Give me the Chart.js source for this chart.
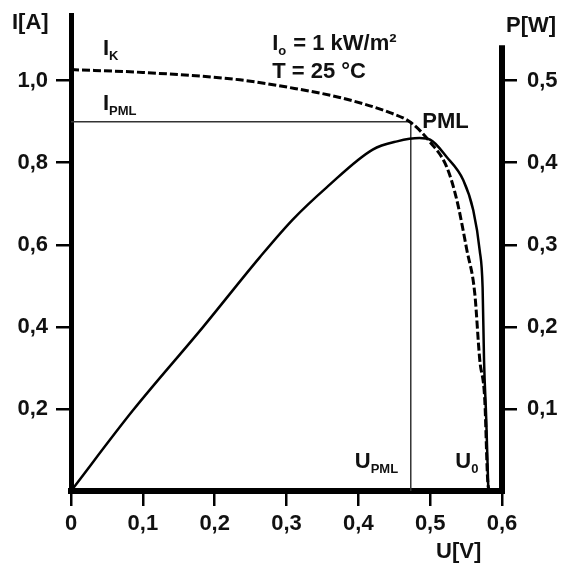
<!DOCTYPE html>
<html>
<head>
<meta charset="utf-8">
<script src="https://cdn.jsdelivr.net/npm/chart.js@4.4.0/dist/chart.umd.min.js"></script>
<style>
html, body { margin: 0; padding: 0; background: #fff; }
</style>
</head>
<body>
<canvas id="chart" width="562" height="570"></canvas>
<script>
// I-U Kennlinie (gestrichelt)
const uStrom = [0, 0.1, 0.235, 0.305, 0.374, 0.444, 0.473, 0.5, 0.523, 0.537, 0.551, 0.562, 0.569, 0.576, 0.58, 0.582];
const strom = [1.027, 1.02, 1.002, 0.983, 0.959, 0.922, 0.898, 0.85, 0.79, 0.71, 0.588, 0.483, 0.32, 0.222, 0.027, 0];
// P-U Kennlinie
const uLeistung = [0, 0.086, 0.184, 0.263, 0.309, 0.356, 0.42, 0.454, 0.485, 0.5, 0.523, 0.546, 0.56, 0.569, 0.573, 0.575, 0.578, 0.581];
const leistung = [0, 0.098, 0.2, 0.285, 0.331, 0.37, 0.416, 0.426, 0.43, 0.428, 0.407, 0.379, 0.342, 0.293, 0.248, 0.159, 0.089, 0];
// Punkt maximaler Leistung
const uPml = 0.473;
const iPml = 0.9;
// Achsen
const uTicks = [0, 0.1, 0.2, 0.3, 0.4, 0.5, 0.6];
const iTicks = [0.2, 0.4, 0.6, 0.8, 1.0];
const pTicks = [0.1, 0.2, 0.3, 0.4, 0.5];
const pAchseOben = 0.543;

const schrift = '"Liberation Sans", Arial, sans-serif';
const fmt = v => v === 0 ? '0' : v.toFixed(1).replace('.', ',');

function punkte(xs, ys) { return xs.map((x, k) => ({ x: x, y: ys[k] })); }

function fixAchse(breite, hoehe) {
    return s => {
        if (breite) s.width = breite;
        if (hoehe) s.height = hoehe;
        s.paddingTop = 0; s.paddingBottom = 0; s.paddingLeft = 0; s.paddingRight = 0;
    };
}

// Text mit Tiefstellung zeichnen
function textTeile(ctx, teile, x, y, groesse) {
    teile.forEach(t => {
        ctx.font = 'bold ' + (t.sub ? Math.round(groesse * 0.6) : groesse) + 'px ' + schrift;
        ctx.fillText(t.t, x, t.sub ? y + 5 : y);
        x += ctx.measureText(t.t).width + (t.sub ? 1 : 0);
    });
}

const beschriftung = {
    id: 'beschriftung',
    afterDraw(chart) {
        const ctx = chart.ctx;
        const sx = chart.scales.x, sI = chart.scales.yI, sP = chart.scales.yP;
        ctx.save();
        // rechte Achse
        ctx.strokeStyle = '#000';
        ctx.lineWidth = 6;
        ctx.beginPath();
        ctx.moveTo(chart.chartArea.right, sP.getPixelForValue(pAchseOben));
        ctx.lineTo(chart.chartArea.right, chart.chartArea.bottom + 3);
        ctx.stroke();

        ctx.fillStyle = '#111';
        ctx.textBaseline = 'alphabetic';
        ctx.textAlign = 'left';
        const g = 22;
        const at = (u, i) => [sx.getPixelForValue(u), sI.getPixelForValue(i)];
        let p;
        textTeile(ctx, [{ t: 'I[A]' }], 12, 29, g);
        textTeile(ctx, [{ t: 'P[W]' }], 506, 32, g);
        textTeile(ctx, [{ t: 'U[V]' }], 436, 558, g);
        p = at(0.0445, 1.063); textTeile(ctx, [{ t: 'I' }, { t: 'K', sub: true }], p[0], p[1], g);
        p = at(0.0445, 0.929); textTeile(ctx, [{ t: 'I' }, { t: 'PML', sub: true }], p[0], p[1], g);
        p = at(0.28, 1.075); textTeile(ctx, [{ t: 'I' }, { t: 'o', sub: true }, { t: ' = 1 kW/m²' }], p[0], p[1], g);
        p = at(0.28, 1.007); textTeile(ctx, [{ t: 'T = 25 °C' }], p[0], p[1], g);
        p = at(0.489, 0.885); textTeile(ctx, [{ t: 'PML' }], p[0], p[1], g);
        p = at(0.395, 0.056); textTeile(ctx, [{ t: 'U' }, { t: 'PML', sub: true }], p[0], p[1], g);
        p = at(0.535, 0.056); textTeile(ctx, [{ t: 'U' }, { t: '0', sub: true }], p[0], p[1], g);
        ctx.restore();
    }
};

const tickFont = { family: schrift, size: 22, weight: 'bold' };

new Chart(document.getElementById('chart').getContext('2d'), {
    type: 'line',
    data: {
        datasets: [
            { data: punkte(uStrom, strom), yAxisID: 'yI', borderColor: '#000', borderWidth: 3, borderDash: [8, 3], cubicInterpolationMode: 'monotone', pointRadius: 0 },
            { data: punkte(uLeistung, leistung), yAxisID: 'yP', borderColor: '#000', borderWidth: 2.5, cubicInterpolationMode: 'monotone', pointRadius: 0 },
            { data: punkte([0, uPml], [iPml, iPml]), yAxisID: 'yI', borderColor: '#333', borderWidth: 1.5, pointRadius: 0 },
            { data: punkte([uPml, uPml], [0, iPml]), yAxisID: 'yI', borderColor: '#333', borderWidth: 1.5, pointRadius: 0 }
        ]
    },
    options: {
        responsive: false,
        animation: false,
        devicePixelRatio: 1,
        layout: { padding: { top: 15, left: 0, right: 0, bottom: 0 } },
        plugins: { legend: { display: false }, tooltip: { enabled: false } },
        scales: {
            x: {
                type: 'linear', min: 0, max: 0.6,
                afterBuildTicks: s => { s.ticks = uTicks.map(v => ({ value: v })); },
                afterFit: fixAchse(0, 79),
                grid: { drawOnChartArea: false, tickLength: 15, lineWidth: 2.5, color: '#000' },
                border: { width: 6, color: '#000' },
                ticks: { font: tickFont, color: '#111', padding: 5, maxRotation: 0, autoSkip: false, callback: fmt }
            },
            yI: {
                type: 'linear', position: 'left', min: 0, max: 1.16,
                afterBuildTicks: s => { s.ticks = iTicks.map(v => ({ value: v })); },
                afterFit: fixAchse(71, 0),
                grid: { drawOnChartArea: false, tickLength: 15, lineWidth: 2.5, color: '#000' },
                border: { width: 5, color: '#000' },
                ticks: { font: tickFont, color: '#111', padding: 8, autoSkip: false, callback: fmt }
            },
            yP: {
                type: 'linear', position: 'right', min: 0, max: 0.58,
                afterBuildTicks: s => { s.ticks = pTicks.map(v => ({ value: v })); },
                afterFit: fixAchse(60, 0),
                grid: { drawOnChartArea: false, tickLength: 15, lineWidth: 2.5, color: '#000' },
                border: { display: false },
                ticks: { font: tickFont, color: '#111', padding: 10, autoSkip: false, callback: fmt }
            }
        }
    },
    plugins: [beschriftung]
});
</script>
</body>
</html>
